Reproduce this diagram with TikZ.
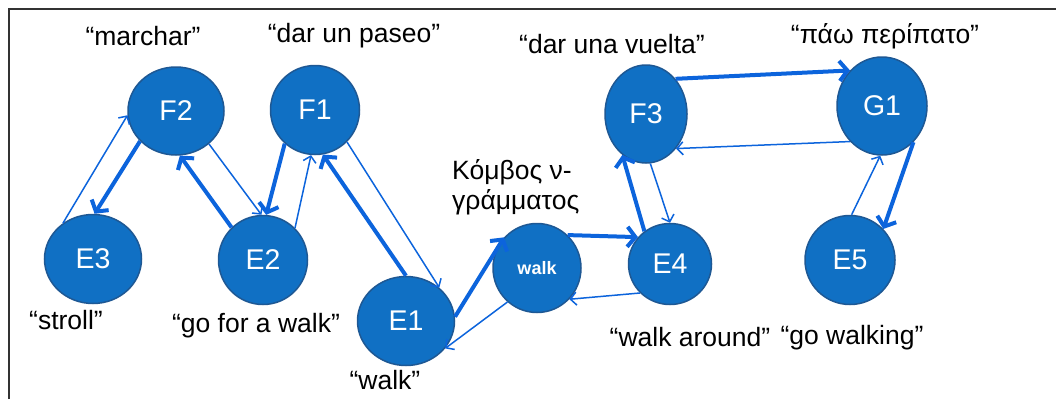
\documentclass[tikz,border=0pt]{standalone}
\usepackage{fontspec}
\setmainfont{Liberation Sans}
\usetikzlibrary{shapes.geometric, arrows.meta}

\definecolor{nodeblue}{RGB}{16,112,196}
\definecolor{rimblue}{RGB}{30,88,148}
\definecolor{linkblue}{RGB}{12,100,220}

\begin{document}
\begin{tikzpicture}[x=1pt, y=-1pt,
	sense/.style={ellipse, fill=nodeblue, draw=rimblue, line width=1.5pt, text=white, inner sep=0pt, font=\fontsize{28.5}{32}\selectfont},
	gloss/.style={font=\fontsize{26.5}{30}\selectfont},
	strong/.style={draw=linkblue, line width=4pt, -{Straight Barb[length=8pt, width=20pt]}},
	weak/.style={draw=linkblue, line width=1.5pt, -{Straight Barb[length=6pt, width=13pt]}}]
		\useasboundingbox (0,0) rectangle (1056,399);
		\draw[line width=1.5pt, black!80] (9,399) -- (9,9) -- (1056,9);

		% sense nodes
		\node[sense, minimum width=96pt, minimum height=88pt] (F2) at (176,111) {F2};
		\node[sense, minimum width=89pt, minimum height=89pt] (F1) at (315,110) {F1};
		\node[sense, minimum width=97pt, minimum height=89pt] (E3) at (93,259) {E3};
		\node[sense, minimum width=89pt, minimum height=89pt] (E2) at (263,260) {E2};
		\node[sense, minimum width=97pt, minimum height=89pt] (E1) at (406,321) {E1};
		\node[sense, minimum width=88pt, minimum height=89pt, font=\bfseries\fontsize{18}{22}\selectfont] (walk) at (537,268) {walk};
		\node[sense, minimum width=83pt, minimum height=81pt] (E4) at (670,264) {E4};
		\node[sense, minimum width=82pt, minimum height=98pt] (F3) at (646,114) {F3};
		\node[sense, minimum width=90pt, minimum height=98pt] (G1) at (882,106) {G1};
		\node[sense, minimum width=90pt, minimum height=89pt] (E5) at (850,260) {E5};

		% glosses
		\node[gloss] (g-F2) at (143,36) {“marchar”};
		\node[gloss] (g-F1) at (354,36) {“dar un paseo”};
		\node[gloss] (g-F3) at (612,44) {“dar una vuelta”};
		\node[gloss] (g-G1) at (885,36) {“πάω περίπατο”};
		\node[gloss, anchor=north west, align=left, inner sep=0pt] (g-walk) at (452,159) {Κόμβος ν-\\γράμματος};
		\node[gloss] (g-E3) at (66,320) {“stroll”};
		\node[gloss] (g-E2) at (256,326) {“go for a walk”};
		\node[gloss] (g-E1) at (385,380) {“walk”};
		\node[gloss] (g-E4) at (690,337) {“walk around”};
		\node[gloss] (g-E5) at (852,338) {“go walking”};

		% links
		\draw[weak] (E3.130) -- (F2.185);
		\draw[strong] (F2.220) -- (E3.88);
		\draw[strong] (E2.134) -- (F2.-85);
		\draw[weak] (F2.-45) -- (E2.92);
		\draw[strong] (F1.-132) -- (E2.86);
		\draw[weak] (E2.45) -- (F1.-95);
		\draw[strong] (E1.90) -- (F1.-80);
		\draw[weak] (F1.-45) -- (E1.45);
		\draw[strong] (E1.5) -- (walk.137);
		\draw[weak] (walk.229) -- (E1.-35);
		\draw[strong] (walk.47) -- (E4.140);
		\draw[weak] (E4.224) -- (walk.-44);
		\draw[strong] (E4.128) -- (F3.-120);
		\draw[weak] (F3.-85) -- (E4.90);
		\draw[strong] (F3.50) -- (G1.132);
		\draw[weak] (G1.228) -- (F3.-49);
		\draw[weak] (E5.88) -- (G1.-92);
		\draw[strong] (G1.-49) -- (E5.43);
	\end{tikzpicture}
\end{document}
